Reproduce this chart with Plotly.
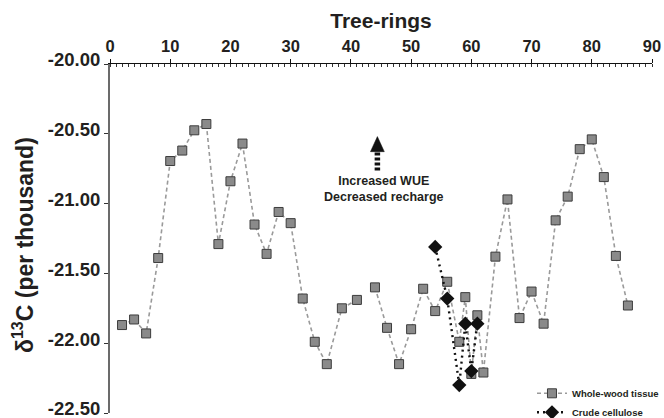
import plotly.graph_objects as go

# Whole-wood tissue series (None marks a gap in the record)
wood_x = [2, 4, 6, 8, 10, 12, 14, 16, 18, 20, 22, 24, 26, 28, 30, 32, 34, 36, 38.5, 41, 42,
          44, 46, 48, 50, 52, 54, 56, 58, 59, 60, 61, 62, 64, 66, 68, 70, 72, 74, 76, 78, 80, 82, 84, 86]
wood_y = [-21.87, -21.83, -21.93, -21.39, -20.695, -20.62, -20.475, -20.43, -21.29, -20.84, -20.57,
          -21.15, -21.36, -21.06, -21.14, -21.68, -21.99, -22.15, -21.75, -21.69, None,
          -21.60, -21.89, -22.15, -21.90, -21.61, -21.77, -21.56, -21.99, -21.67, -22.22, -21.80,
          -22.21, -21.38, -20.97, -21.82, -21.63, -21.86, -21.12, -20.95, -20.61, -20.54, -20.81,
          -21.375, -21.73]

# Crude cellulose series
cell_x = [54, 56, 58, 59, 60, 61]
cell_y = [-21.31, -21.68, -22.30, -21.86, -22.20, -21.86]

# Axis ticks
x_ticks = [0, 10, 20, 30, 40, 50, 60, 70, 80, 90]
y_ticks = [-20.0, -20.5, -21.0, -21.5, -22.0, -22.5]
y_tick_text = ["-20.00", "-20.50", "-21.00", "-21.50", "-22.00", "-22.50"]

FONT = "Liberation Sans, Arial, sans-serif"
TXT = "#231f20"

fig = go.Figure()
fig.add_trace(go.Scatter(
    x=wood_x, y=wood_y, mode="lines+markers", name="Whole-wood tissue",
    connectgaps=False,
    line=dict(color="#9a9a9a", width=1.6, dash="4px,3px"),
    marker=dict(symbol="square", size=9, color="#8a8a8a", line=dict(color="#3c3c3c", width=1)),
))
fig.add_trace(go.Scatter(
    x=cell_x, y=cell_y, mode="lines+markers", name="Crude cellulose",
    line=dict(color="#111111", width=2.4, dash="2px,4px"),
    marker=dict(symbol="diamond", size=11, color="#111111"),
))

# Arrow: solid head + striped tail
AX = 44.4
fig.add_shape(type="path", xref="x", yref="y",
              path=f"M {AX-1.15},-20.628 L {AX+1.15},-20.628 L {AX},-20.52 Z",
              fillcolor="#111111", line=dict(color="#111111", width=0.5))
fig.add_shape(type="line", x0=AX, x1=AX, y0=-20.762, y1=-20.628, xref="x", yref="y",
              line=dict(color="#111111", width=5.5, dash="3px,2px"))
fig.add_annotation(x=45.5, y=-20.893, xref="x", yref="y", showarrow=False, align="center",
                   text="Increased WUE<br>Decreased recharge",
                   font=dict(family=FONT, size=12.5, color=TXT, weight="bold"))

# Y axis title as free annotation (positioned like the reference)
fig.add_annotation(x=-0.16, y=0.482, xref="paper", yref="paper", showarrow=False,
                   textangle=-90, xanchor="center", yanchor="middle",
                   text="δ<sup>13</sup>C (per thousand)",
                   font=dict(family=FONT, size=23, color=TXT, weight="bold"))

fig.update_layout(
    width=664, height=418,
    margin=dict(l=110, r=12, t=64, b=5, autoexpand=False),
    paper_bgcolor="white", plot_bgcolor="white",
    font=dict(family=FONT, color=TXT),
    showlegend=True,
    legend=dict(x=1.0221, y=0.098, xanchor="right", yanchor="top", bgcolor="rgba(0,0,0,0)",
                font=dict(family=FONT, size=9.5, color=TXT, weight="bold"),
                tracegroupgap=0, itemwidth=30),
    xaxis=dict(
        side="top", range=[0, 90], tickvals=x_ticks, showgrid=False, zeroline=False,
        automargin=False,
        showline=True, linecolor="#111111", linewidth=1,
        ticks="outside", ticklen=4, tickcolor="#111111", tickwidth=1,
        minor=dict(dtick=1, ticks="inside", ticklen=3, tickcolor="#333333", tickwidth=1, showgrid=False),
        tickfont=dict(family=FONT, size=16.5, color=TXT, weight="bold"),
        ticklabeloverflow="allow",
        title=dict(text="Tree-rings", standoff=3,
                   font=dict(family=FONT, size=21, color=TXT, weight="bold")),
    ),
    xaxis2=dict(
        overlaying="x", side="top", anchor="y", range=[0, 90], tickvals=x_ticks,
        showticklabels=False, showgrid=False, zeroline=False, showline=False, automargin=False,
        ticks="inside", ticklen=4, tickcolor="#111111", tickwidth=1,
    ),
    yaxis=dict(
        range=[-22.5, -20.0], tickvals=y_ticks, ticktext=y_tick_text, showgrid=False, zeroline=False,
        automargin=False,
        showline=True, linecolor="#6b6b6b", linewidth=2,
        ticks="outside", ticklen=4, tickcolor="#333333", tickwidth=1,
        tickfont=dict(family=FONT, size=18.5, color=TXT, weight="bold"),
        ticklabeloverflow="allow", ticklabelshift=-4,
    ),
)

fig.write_html("out.html", config={"displayModeBar": False},
               post_script="document.body.style.margin='0';document.body.style.overflow='hidden';")
